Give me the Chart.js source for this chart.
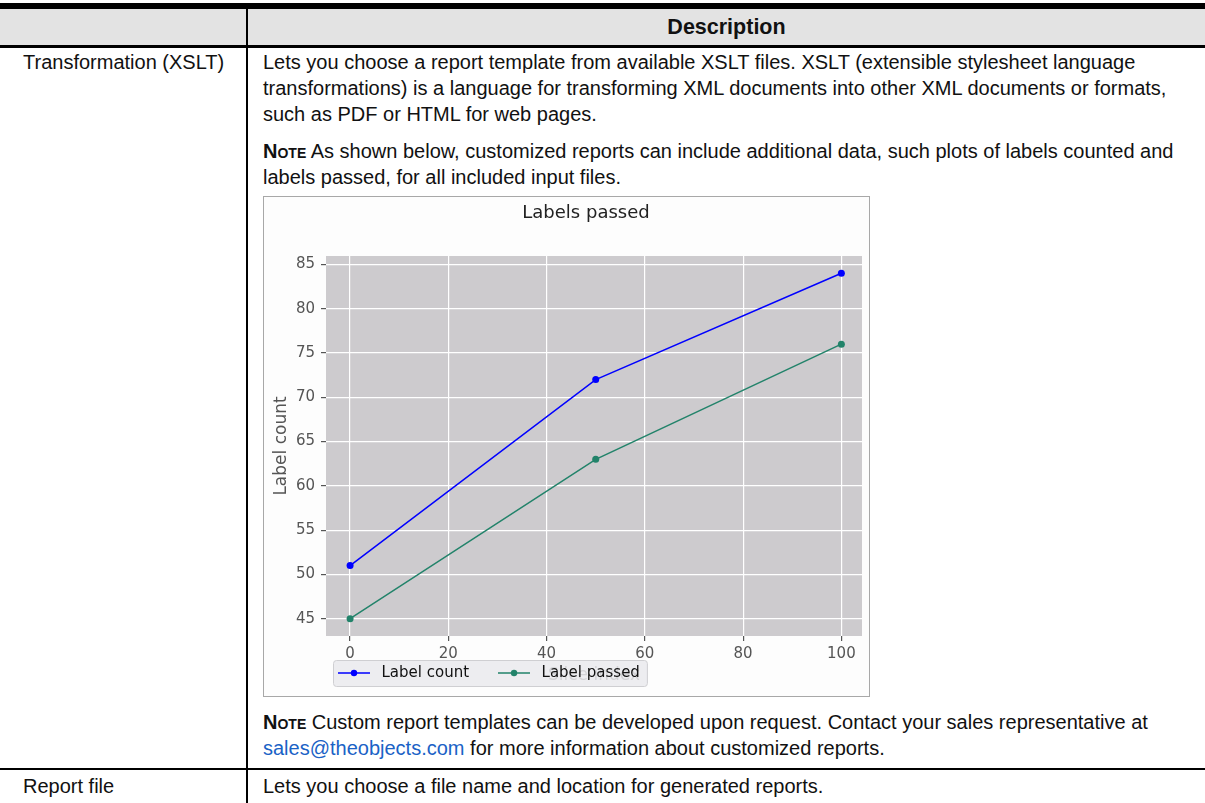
<!DOCTYPE html>
<html>
<head>
<meta charset="utf-8">
<script src="https://cdn.jsdelivr.net/npm/chart.js@4.4.0/dist/chart.umd.min.js"></script>
<style>
  html, body { margin: 0; padding: 0; background: #fff; }
  body {
    width: 1205px; height: 803px; position: relative; overflow: hidden;
    font-family: "Liberation Sans", Arial, sans-serif; font-size: 20px; color: #111;
  }
  .bar { position: absolute; background: #000; }
  .txt { position: absolute; line-height: 26px; white-space: nowrap; }
  .note { font-weight: bold; font-variant: small-caps; }
  a { color: #1a62c6; text-decoration: none; }
  #chartBox {
    position: absolute; left: 263px; top: 196px; width: 605px; height: 499px;
    border: 1px solid #a8a8a8; background: #fdfdfd; overflow: hidden;
  }
  #chartBox canvas { display: block; }
</style>
</head>
<body>
  <!-- 表の枠線 -->
  <div class="bar" style="left:0;top:3px;width:1205px;height:6px"></div>
  <div style="position:absolute;left:0;top:9px;width:1205px;height:36px;background:#e3e3e3"></div>
  <div class="bar" style="left:0;top:45px;width:1205px;height:3px"></div>
  <div class="bar" style="left:246px;top:9px;width:2px;height:794px"></div>
  <div class="bar" style="left:0;top:768px;width:1205px;height:2px"></div>

  <div style="position:absolute;left:248px;top:9px;width:957px;line-height:36px;text-align:center;font-weight:bold;font-size:21.5px">Description</div>

  <div class="txt" style="left:23px;top:49px">Transformation (XSLT)</div>
  <div class="txt" style="left:263px;top:49px">Lets you choose a report template from available XSLT files. XSLT (extensible stylesheet language<br>transformations) is a language for transforming XML documents into other XML documents or formats,<br>such as PDF or HTML for web pages.</div>
  <div class="txt" style="left:263px;top:138px"><span class="note">Note</span> As shown below, customized reports can include additional data, such plots of labels counted and<br>labels passed, for all included input files.</div>

  <div id="chartBox"><canvas id="chart" width="605" height="514"></canvas></div>

  <div class="txt" style="left:263px;top:709px"><span class="note">Note</span> Custom report templates can be developed upon request. Contact your sales representative at<br><a href="#">sales@theobjects.com</a> for more information about customized reports.</div>

  <div class="txt" style="left:23px;top:773px">Report file</div>
  <div class="txt" style="left:263px;top:773px">Lets you choose a file name and location for generated reports.</div>

<script>
// データ
const sliceIndex = [0, 50, 100];
const labelCount = [51, 72, 84];
const labelPassed = [45, 63, 76];
const seriesNames = ['Label count', 'Label passed'];
const seriesColors = ['#0000ff', '#22836a'];

const FONT = 'DejaVu Sans';

// 凡例のマーカー（線＋点）
function makeMarker(color) {
  const c = document.createElement('canvas');
  c.width = 32;
  c.height = 8;
  const g = c.getContext('2d');
  g.strokeStyle = color;
  g.lineWidth = 1.5;
  g.beginPath();
  g.moveTo(0, 4);
  g.lineTo(32, 4);
  g.stroke();
  g.fillStyle = color;
  g.beginPath();
  g.arc(16, 4, 3.2, 0, Math.PI * 2);
  g.fill();
  return c;
}
const markers = seriesColors.map(makeMarker);

// プロット背景・凡例ボックス
const backdrop = {
  id: 'backdrop',
  beforeDraw(chart) {
    const { ctx, chartArea } = chart;
    const ca = chartArea;

    ctx.save();
    ctx.fillStyle = '#cdcbce';
    ctx.fillRect(ca.left, ca.top, ca.right - ca.left, ca.bottom - ca.top);

    // タイトルと凡例の位置を調整
    if (chart.titleBlock) {
      chart.titleBlock.left = ca.left - 16;
      chart.titleBlock.right = ca.right;
    }
    const lg = chart.legend;
    const pad = lg.options.labels.padding;
    lg.left = ca.left - 17;
    lg.top = ca.bottom + 37 - pad - 7.5;

    // 凡例の裏に隠れたx軸タイトル
    ctx.font = '17px "' + FONT + '"';
    ctx.fillStyle = '#555';
    ctx.textAlign = 'center';
    ctx.textBaseline = 'middle';
    ctx.fillText('Slice index', (ca.left + ca.right) / 2, ca.bottom + 40);

    const cy = ca.bottom + 37;
    const x0 = lg.left + pad - 1;
    const x1 = lg.left + lg.lineWidths[0] + 7;
    ctx.fillStyle = 'rgba(234,234,237,0.85)';
    ctx.strokeStyle = '#cfcfd2';
    ctx.lineWidth = 1;
    ctx.beginPath();
    ctx.roundRect(x0 + 0.5, cy - 13 + 0.5, x1 - x0, 26, 3);
    ctx.fill();
    ctx.stroke();
    ctx.restore();
  }
};

const datasets = seriesNames.map((name, i) => ({
  label: name,
  data: sliceIndex.map((x, j) => ({ x, y: (i === 0 ? labelCount : labelPassed)[j] })),
  borderColor: seriesColors[i],
  backgroundColor: seriesColors[i],
  borderWidth: 1.5,
  pointRadius: 3.5,
  pointBorderWidth: 0,
  pointBackgroundColor: seriesColors[i],
  tension: 0
}));

new Chart(document.getElementById('chart').getContext('2d'), {
  type: 'line',
  data: { datasets },
  plugins: [backdrop],
  options: {
    responsive: false,
    animation: false,
    layout: { padding: { left: 0, right: 7, top: 0, bottom: 0 } },
    plugins: {
      title: {
        display: true,
        text: 'Labels passed',
        fullSize: false,
        color: '#222',
        font: { family: FONT, size: 18, weight: 'normal' },
        padding: { top: 5.2, bottom: 32.2 }
      },
      legend: {
        position: 'bottom',
        align: 'start',
        fullSize: false,
        labels: {
          usePointStyle: true,
          pointStyleWidth: 40,
          padding: 25,
          color: '#111',
          font: { family: FONT, size: 15 },
          generateLabels(chart) {
            const items = Chart.defaults.plugins.legend.labels.generateLabels(chart);
            items.forEach(item => { item.pointStyle = markers[item.datasetIndex]; });
            return items;
          }
        }
      },
      tooltip: { enabled: false }
    },
    scales: {
      x: {
        type: 'linear',
        min: -4.9,
        max: 104.2,
        border: { display: false },
        grid: { color: '#ffffff', lineWidth: 1.2, tickColor: '#555', tickLength: 5 },
        ticks: {
          stepSize: 20,
          includeBounds: false,
          color: '#555',
          padding: 4,
          font: { family: FONT, size: 15 }
        },
        afterFit(scale) { scale.height = 25; }
      },
      y: {
        min: 43.05,
        max: 85.95,
        border: { display: false },
        grid: { color: '#ffffff', lineWidth: 1.2, tickColor: '#555', tickLength: 5 },
        ticks: {
          stepSize: 5,
          includeBounds: false,
          color: '#555',
          padding: 6,
          font: { family: FONT, size: 15 }
        },
        title: {
          display: true,
          text: 'Label count',
          color: '#555',
          font: { family: FONT, size: 17 },
          padding: { top: 7, bottom: 0 }
        },
        afterFit(scale) { scale.width = 62; }
      }
    }
  }
});
</script>
</body>
</html>
